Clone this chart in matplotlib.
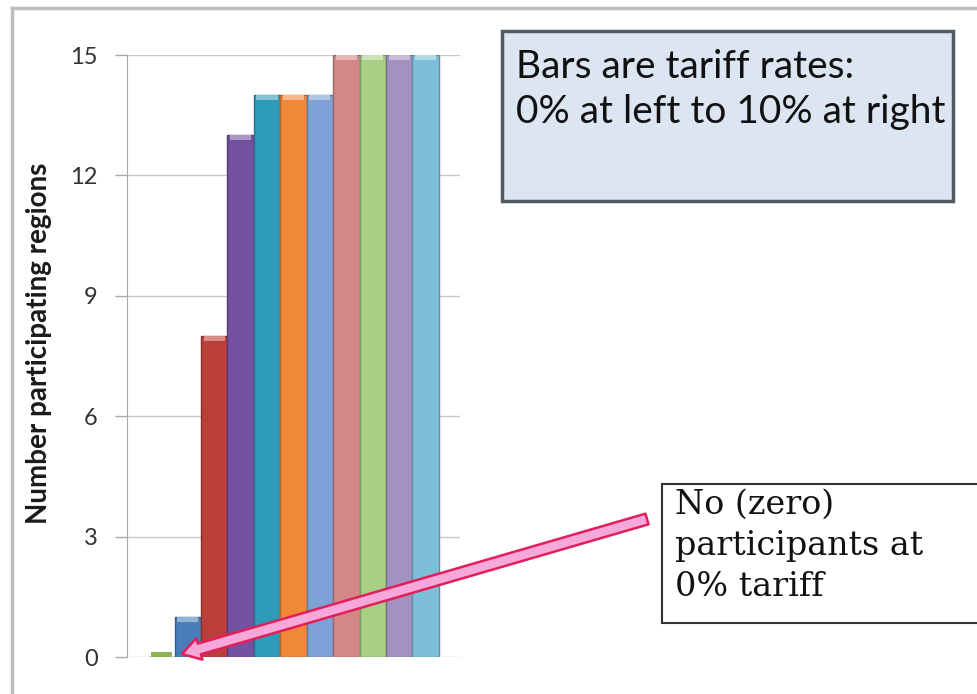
import matplotlib
matplotlib.use("Agg")
import matplotlib.pyplot as plt
from matplotlib.patches import FancyArrowPatch, Rectangle
from matplotlib.lines import Line2D
import matplotlib.colors as mcolors

# ---- data ----
tariff_rates = ["0%", "1%", "2%", "3%", "4%", "5%", "6%", "7%", "8%", "9%", "10%"]
participants = [0, 1, 8, 13, 14, 14, 14, 15, 15, 15, 15]
bar_colors = ["#8DB255", "#4A7EBB", "#BA3F3A", "#74519E", "#2E9BB8", "#F0883A",
              "#7EA2D8", "#D48787", "#A9CF85", "#A391C2", "#7DBFD8"]
y_ticks = [0, 3, 6, 9, 12, 15]
y_label = "Number participating regions"
box1_text = "Bars are tariff rates:\n0% at left to 10% at right"
box2_text = "No (zero)\nparticipants at\n0% tariff"

W, H = 978, 694
fig = plt.figure(figsize=(W / 100, H / 100), dpi=100)
fig.patch.set_facecolor("white")

def fx(px):
    return px / W

def fy(py):
    return 1 - py / H

# outer frame (top & left visible)
fig.add_artist(Line2D([fx(12), fx(12)], [fy(8), 0], transform=fig.transFigure,
                      color="#BDBDBD", lw=2.5))
fig.add_artist(Line2D([fx(12), 1], [fy(8), fy(8)], transform=fig.transFigure,
                      color="#BDBDBD", lw=2.5))

ax = fig.add_axes([fx(127), fy(657), fx(460) - fx(127), (657 - 55) / H])
ax.set_facecolor("none")
x = list(range(len(participants)))
ax.bar(x, participants, width=1.0, color=bar_colors,
       edgecolor=[mcolors.to_hex([c * 0.75 for c in mcolors.to_rgb(col)]) for col in bar_colors],
       linewidth=1.0, zorder=3)
# lighter caps on top of each bar
cap_h = 0.13
cap_colors = [mcolors.to_hex([min(1, c * 0.6 + 0.4) for c in mcolors.to_rgb(col)]) for col in bar_colors]
ax.bar(x, [cap_h] * len(x), bottom=[max(v - cap_h, 0) for v in participants], width=0.8,
       color=[bar_colors[0]] + cap_colors[1:], linewidth=0, zorder=4)

ax.set_xlim(-1.3, 11.3)
ax.set_ylim(0, 15)
ax.set_yticks(y_ticks)
ax.set_yticklabels([str(t) for t in y_ticks], fontsize=17, color="#333333", family="Lato")
ax.set_xticks([])
ax.yaxis.grid(True, color="#C8C8C8", lw=1.0, zorder=0)
ax.set_axisbelow(True)
for s in ["top", "right", "bottom"]:
    ax.spines[s].set_visible(False)
ax.spines["left"].set_color("#A6A6A6")
ax.tick_params(axis="y", length=9, color="#A6A6A6", pad=12, width=1)
ax.tick_params(axis="x", length=0)

fig.text(fx(39), fy(343), y_label, rotation=90, ha="center", va="center",
         fontsize=20, fontweight="bold", family="Lato", color="#1A1A1A")

# text box 1
fig.add_artist(Rectangle((fx(502), fy(201)), fx(953) - fx(502), (201 - 31) / H,
                         transform=fig.transFigure, facecolor="#DCE6F2",
                         edgecolor="#525A63", lw=2.5))
fig.text(fx(516), fy(49), box1_text, ha="left", va="top", fontsize=28,
         family="Lato", color="#111111", linespacing=1.3)

# text box 2
fig.add_artist(Rectangle((fx(662), fy(623)), 1.2 - fx(662), (623 - 484) / H,
                         transform=fig.transFigure, facecolor="white",
                         edgecolor="#333333", lw=1.5, clip_on=False))
fig.text(fx(675), fy(489), box2_text, ha="left", va="top", fontsize=24,
         family="DejaVu Serif", color="#111111", linespacing=1.35)

# arrow
arrow = FancyArrowPatch((fx(647), fy(519)), (fx(182), fy(654)),
                        transform=fig.transFigure,
                        arrowstyle="simple,head_length=13,head_width=16,tail_width=8",
                        facecolor="#F7A8DA", edgecolor="#E21F5A", lw=1.8,
                        shrinkA=0, shrinkB=0, zorder=10)
fig.add_artist(arrow)

fig.savefig("out.png", dpi=100)
